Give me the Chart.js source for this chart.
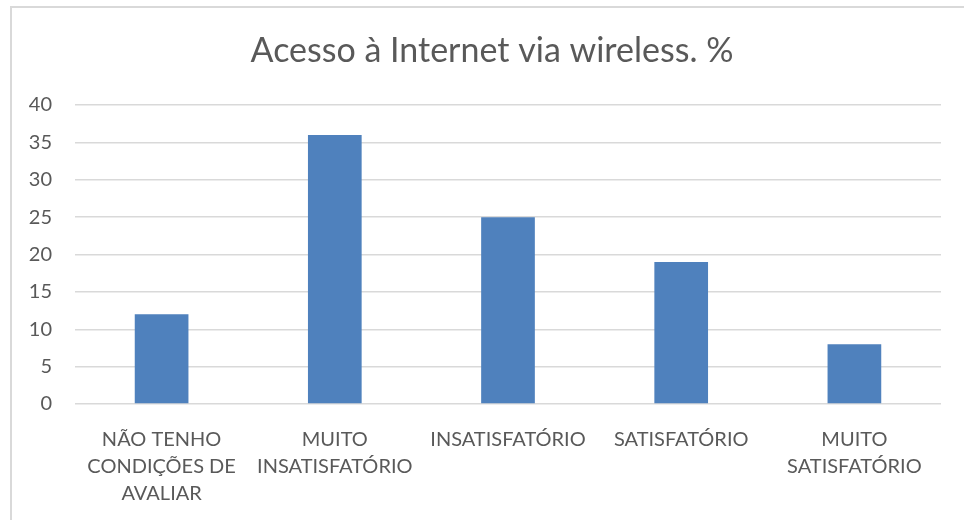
<!DOCTYPE html>
<html>
<head>
<meta charset="utf-8">
<script src="https://cdn.jsdelivr.net/npm/chart.js@4"></script>
<style>
  html, body { margin: 0; padding: 0; background: #fff; overflow: hidden; }
  #wrap { position: relative; width: 964px; height: 520px; }
  #frame { position: absolute; left: 10px; top: 6px; width: 1000px; height: 600px; border: 2px solid #d9d9d9; box-sizing: border-box; }
  canvas { position: absolute; left: 0; top: 0; }
</style>
</head>
<body>
<div id="wrap">
  <div id="frame"></div>
  <canvas id="grafico" width="964" height="520"></canvas>
</div>
<script>
const titulo = "Acesso à Internet via wireless. %";
const categorias = [
  ["NÃO TENHO", "CONDIÇÕES DE", "AVALIAR"],
  ["MUITO", "INSATISFATÓRIO"],
  ["INSATISFATÓRIO"],
  ["SATISFATÓRIO"],
  ["MUITO", "SATISFATÓRIO"]
];
const valores = [12, 36, 25, 19, 8];
const eixoY = { min: 0, max: 40, passo: 5 };

const fonte = "Lato, 'Open Sans', 'Liberation Sans', sans-serif";
const cinza = "#595959";

// titulo desenhado a mao, centralizado na moldura toda (como no Excel)
const tituloPlugin = {
  id: "tituloExcel",
  afterDraw(chart) {
    const c = chart.ctx;
    c.save();
    c.fillStyle = cinza;
    c.font = "34px " + fonte;
    c.textAlign = "center";
    c.textBaseline = "middle";
    c.fillText(titulo, 492, 51);
    c.restore();
  }
};

const ctx = document.getElementById("grafico").getContext("2d");
new Chart(ctx, {
  type: "bar",
  data: {
    labels: categorias,
    datasets: [{
      label: titulo,
      data: valores,
      backgroundColor: "#4f81bd",
      barPercentage: 0.31,
      categoryPercentage: 1
    }]
  },
  options: {
    responsive: false,
    animation: false,
    layout: { padding: { top: 105, right: 23, bottom: 0, left: 0 } },
    plugins: {
      legend: { display: false },
      tooltip: { enabled: false },
      title: { display: false }
    },
    scales: {
      x: {
        grid: { display: false },
        border: { display: false },
        ticks: {
          color: cinza,
          font: { family: fonte, size: 20, lineHeight: 1.35 },
          padding: 14,
          maxRotation: 0,
          autoSkip: false
        },
        afterFit: s => { s.height = 116; }
      },
      y: {
        min: eixoY.min,
        max: eixoY.max,
        border: { display: false },
        grid: { color: "#d9d9d9", lineWidth: 1.5, drawTicks: false },
        ticks: {
          stepSize: eixoY.passo,
          color: cinza,
          font: { family: fonte, size: 20 },
          padding: 23
        },
        afterFit: s => { s.width = 75; }
      }
    }
  },
  plugins: [tituloPlugin]
});
</script>
</body>
</html>
